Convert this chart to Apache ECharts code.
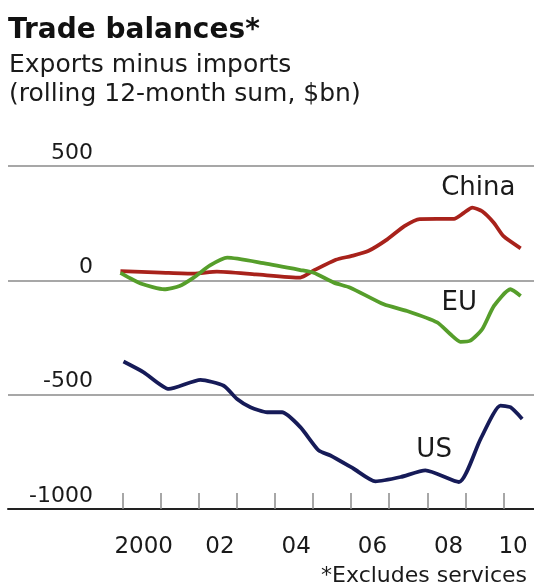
<!DOCTYPE html>
<html>
<head>
<meta charset="utf-8">
<style>
  html, body { margin: 0; padding: 0; background: #fff; }
  #chart { width: 534px; height: 585px; }
</style>
<script src="https://cdn.jsdelivr.net/npm/echarts@6/dist/echarts.min.js"></script>
</head>
<body>
<div id="chart"></div>
<script>
// Trade balances, rolling 12-month sum, $bn (x = decimal year)
const chinaYears  = [1999.95, 2001.0, 2001.87, 2002.48, 2003.5, 2004.67, 2005.0, 2005.6, 2006.0, 2006.45, 2006.95, 2007.4, 2007.8, 2008.7, 2008.96, 2009.18, 2009.44, 2009.75, 2010.0, 2010.45];
const chinaValues = [40, 34, 29, 38, 26, 12, 41, 90, 106, 128, 179, 237, 268, 269, 295, 318, 302, 251, 193, 140];

const euYears  = [1999.95, 2000.5, 2001.1, 2001.5, 2001.87, 2002.3, 2002.75, 2003.7, 2004.67, 2005.02, 2005.55, 2005.98, 2006.86, 2007.47, 2008.26, 2008.6, 2008.87, 2009.13, 2009.44, 2009.75, 2010.18, 2010.45];
const euValues = [33, -15, -39, -25, 12, 65, 99, 75, 45, 33, -10, -32, -105, -134, -184, -235, -269, -264, -214, -112, -39, -68];

const usYears  = [2000.03, 2000.56, 2001.22, 2002.05, 2002.66, 2003.01, 2003.36, 2003.8, 2004.19, 2004.67, 2005.15, 2005.46, 2006.07, 2006.64, 2007.3, 2007.95, 2008.83, 2009.4, 2009.92, 2010.18, 2010.49];
const usValues = [-355, -402, -475, -435, -461, -519, -555, -577, -577, -642, -744, -766, -824, -879, -860, -831, -882, -693, -548, -555, -606];

// Axis ticks and labels
const tickYears  = [2000, 2001, 2002, 2003, 2004, 2005, 2006, 2007, 2008, 2009, 2010];
const labelYears = [2000, 2002, 2004, 2006, 2008, 2010];
const labelTexts = ['2000', '02', '04', '06', '08', '10'];
const yTicks = [-1000, -500, 0, 500];

// Series name labels placed in data coordinates
const seriesNames = ['China', 'EU', 'US'];
const nameCoords  = [[2009.34, 402], [2008.84, -100], [2008.18, -743]];

const FONT = 'DejaVu Sans';
const LINE_COLORS = ['#a8221b', '#569e2b', '#161b58'];

function pairs(xs, ys) { return xs.map((x, i) => [x, ys[i]]); }

// label centred within each labelled year, kept inside the right edge
const labelPos = labelYears.map(y => Math.min(y + 0.56, 2010.25));

function lineSeries(name, xs, ys, color) {
  return { name, type: 'line', data: pairs(xs, ys), showSymbol: false,
    smooth: 0.2, lineStyle: { color, width: 3.8 }, z: 3 };
}

const chart = echarts.init(document.getElementById('chart'));
chart.setOption({
  animation: false,
  backgroundColor: '#ffffff',
  title: [
    { text: 'Trade balances*', left: 8, top: 17, padding: 0,
      textStyle: { fontFamily: FONT, fontWeight: 'bold', fontSize: 28, color: '#111' } },
    { text: 'Exports minus imports\n(rolling 12-month sum, $bn)', left: 9, top: 51, padding: 0,
      textStyle: { fontFamily: FONT, fontWeight: 'normal', fontSize: 25, lineHeight: 29, color: '#1a1a1a' } },
    { text: '*Excludes services', right: 7, top: 565, padding: 0,
      textStyle: { fontFamily: FONT, fontWeight: 'normal', fontSize: 22, color: '#1a1a1a' } }
  ],
  grid: { left: 8, right: 0, top: 166, bottom: 76 },
  xAxis: {
    type: 'value', min: 1997, max: 2010.8,
    splitLine: { show: false },
    axisLine: { show: true, onZero: false, lineStyle: { color: '#222', width: 2 } },
    axisTick: { show: true, inside: true, length: 16, customValues: tickYears,
      lineStyle: { color: '#8a8a8a', width: 1.5 } },
    axisLabel: { show: true, customValues: labelPos, margin: 27,
      fontFamily: FONT, fontSize: 23, color: '#1a1a1a',
      formatter: v => {
        const i = labelPos.findIndex(p => Math.abs(p - v) < 1e-6);
        return i >= 0 ? labelTexts[i] : '';
      } }
  },
  yAxis: {
    type: 'value', min: -1000, max: 500, interval: 500,
    axisLine: { show: false },
    axisTick: { show: false },
    splitLine: { show: true, lineStyle: { color: '#8a8a8a', width: 1.5 } },
    axisLabel: { show: true, inside: true, align: 'right', margin: 85,
      verticalAlign: 'bottom', lineHeight: 22, padding: [0, 0, 2, 0],
      fontFamily: FONT, fontSize: 22, color: '#1a1a1a',
      customValues: yTicks, formatter: v => String(v) }
  },
  series: [
    lineSeries('China', chinaYears, chinaValues, LINE_COLORS[0]),
    lineSeries('EU', euYears, euValues, LINE_COLORS[1]),
    lineSeries('US', usYears, usValues, LINE_COLORS[2])
  ]
});

// Series names, positioned through the chart's own coordinate system
chart.setOption({
  graphic: seriesNames.map((name, i) => {
    const [px, py] = chart.convertToPixel({ gridIndex: 0 }, nameCoords[i]);
    return {
      type: 'text', x: px, y: py, z: 10,
      style: { text: name, fill: '#1a1a1a', font: '26px "DejaVu Sans"',
        align: 'center', verticalAlign: 'middle' }
    };
  })
});
</script>
</body>
</html>
